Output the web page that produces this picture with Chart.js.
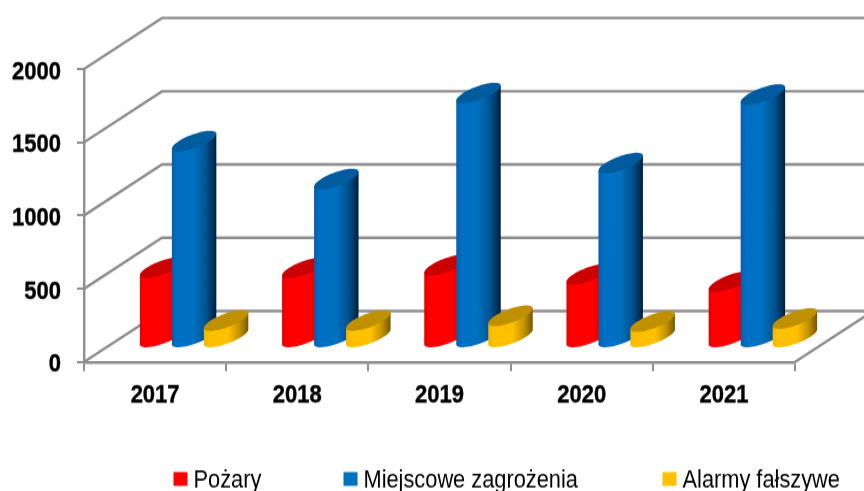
<!DOCTYPE html>
<html><head><meta charset="utf-8">
<style>
html,body{margin:0;padding:0;background:#fff;overflow:hidden;width:864px;height:491px}
#wrap{width:864px;height:427px;transform-origin:0 0;transform:scaleY(1.14988)}
canvas{display:block}
</style>
<script src="https://cdn.jsdelivr.net/npm/chart.js@4/dist/chart.umd.js"></script>
</head><body><div id="wrap"><canvas id="c" width="864" height="427"></canvas></div>
<script>
const categories = ['2017','2018','2019','2020','2021'];
const pozary = [480,478,498,435,385];
const miejscowe = [1344,1085,1672,1194,1662];
const alarmy = [120,120,152,113,133];
const seriesNames = ['Pożary','Miejscowe zagrożenia','Alarmy fałszywe'];
const yTicks = [0,500,1000,1500,2000];

const S = 491/427;
const GRID = '#8e8e8e';
const DEPTH = {x:78, y:51/S};
const BASE_SHIFT = 1.5/S;
const SIDE = [
 [[0,'#e40000'],[.1,'#ff0000'],[.6,'#ff0000'],[1,'#b80000']],
 [[0,'#0a5ea8'],[.12,'#0070c6'],[.5,'#0070c0'],[.78,'#00508c'],[1,'#00203c']],
 [[0,'#f2b500'],[.12,'#ffc000'],[.55,'#ffc000'],[.8,'#c49400'],[1,'#755800']]
];
const CAP = ['#cc0000','#005c9e','#bf9000'];
const LEGEND_X = [173.5,343.5,662.5];

function ellipsePoint(cx,cy,hw,t){
  return [cx+hw*Math.cos(t), cy+(-7.5*Math.cos(t)-7.2*Math.sin(t))/S];
}
const wallPlugin = {
  id:'walls',
  beforeDatasetsDraw(chart){
    const {ctx,scales:{y},chartArea:a} = chart;
    ctx.save();
    ctx.strokeStyle = GRID; ctx.lineWidth = 2.4; ctx.lineJoin='miter';
    yTicks.forEach(v=>{
      const py = y.getPixelForValue(v);
      ctx.beginPath();
      ctx.moveTo(a.left,py);
      ctx.lineTo(a.left+DEPTH.x,py-DEPTH.y);
      ctx.lineTo(a.right+DEPTH.x,py-DEPTH.y);
      ctx.stroke();
    });
    const y0 = y.getPixelForValue(0);
    ctx.beginPath();
    ctx.moveTo(a.right,y0);
    ctx.lineTo(a.right+DEPTH.x,y0-DEPTH.y);
    ctx.stroke();
    ctx.restore();
    chart.data.datasets.forEach((ds,di)=>{
      chart.getDatasetMeta(di).data.forEach(bar=>{
        const hw = bar.width/2;
        const cx = bar.x+DEPTH.x/2;
        const topY = bar.y-DEPTH.y/2+BASE_SHIFT;
        const baseY = bar.base-DEPTH.y/2+BASE_SHIFT;
        const g = ctx.createLinearGradient(cx-hw,0,cx+hw,0);
        SIDE[di].forEach(s=>g.addColorStop(s[0],s[1]));
        ctx.beginPath();
        let p = ellipsePoint(cx,topY,hw,Math.PI);
        ctx.moveTo(p[0],p[1]);
        for(let i=0;i<=48;i++){
          p = ellipsePoint(cx,baseY,hw,Math.PI+Math.PI*i/48);
          ctx.lineTo(p[0],p[1]);
        }
        p = ellipsePoint(cx,topY,hw,0);
        ctx.lineTo(p[0],p[1]);
        ctx.closePath();
        ctx.fillStyle = g; ctx.fill();
        ctx.beginPath();
        for(let i=0;i<=72;i++){
          p = ellipsePoint(cx,topY,hw,2*Math.PI*i/72);
          i?ctx.lineTo(p[0],p[1]):ctx.moveTo(p[0],p[1]);
        }
        ctx.closePath();
        ctx.fillStyle = CAP[di]; ctx.fill();
      });
    });
    return false;
  },
  afterDraw(chart){
    const ctx = chart.ctx;
    ctx.save();
    ctx.font = '21.8px "Liberation Sans"';
    ctx.textBaseline='alphabetic';
    chart.data.datasets.forEach((ds,i)=>{
      ctx.fillStyle = ds.backgroundColor;
      ctx.fillRect(LEGEND_X[i],410.5,14,12);
      ctx.fillStyle = '#000';
      ctx.fillText(ds.label,LEGEND_X[i]+20,423.5);
    });
    ctx.restore();
  }
};

new Chart(document.getElementById('c'),{
  type:'bar',
  data:{labels:categories,datasets:[
    {label:seriesNames[0],data:pozary,backgroundColor:'#ff0000'},
    {label:seriesNames[1],data:miejscowe,backgroundColor:'#0070c0'},
    {label:seriesNames[2],data:alarmy,backgroundColor:'#ffc000'}
  ]},
  options:{
    responsive:false,animation:false,
    categoryPercentage:.675,barPercentage:1.39,
    layout:{padding:{left:0,right:69,top:60,bottom:0}},
    plugins:{legend:{display:false},tooltip:{enabled:false}},
    scales:{
      x:{
        afterFit(s){s.height=427-314.8;},
        grid:{drawOnChartArea:false,color:GRID,lineWidth:2,tickLength:8},
        border:{color:GRID,width:2.4},
        ticks:{color:'#000',font:{family:'"Liberation Sans"',size:22,weight:'bold'},padding:8,maxRotation:0,textStrokeColor:'#000',textStrokeWidth:0.4}
      },
      y:{
        min:0,max:2000,
        afterFit(s){s.width=84;},
        grid:{drawOnChartArea:false,color:GRID,lineWidth:2,tickLength:7},
        border:{color:GRID,width:2.4},
        ticks:{color:'#000',stepSize:500,font:{family:'"Liberation Sans"',size:22,weight:'bold'},padding:16,labelOffset:2.5,textStrokeColor:'#000',textStrokeWidth:0.4,callback:v=>String(v)}
      }
    }
  },
  plugins:[wallPlugin]
});
</script></body></html>
